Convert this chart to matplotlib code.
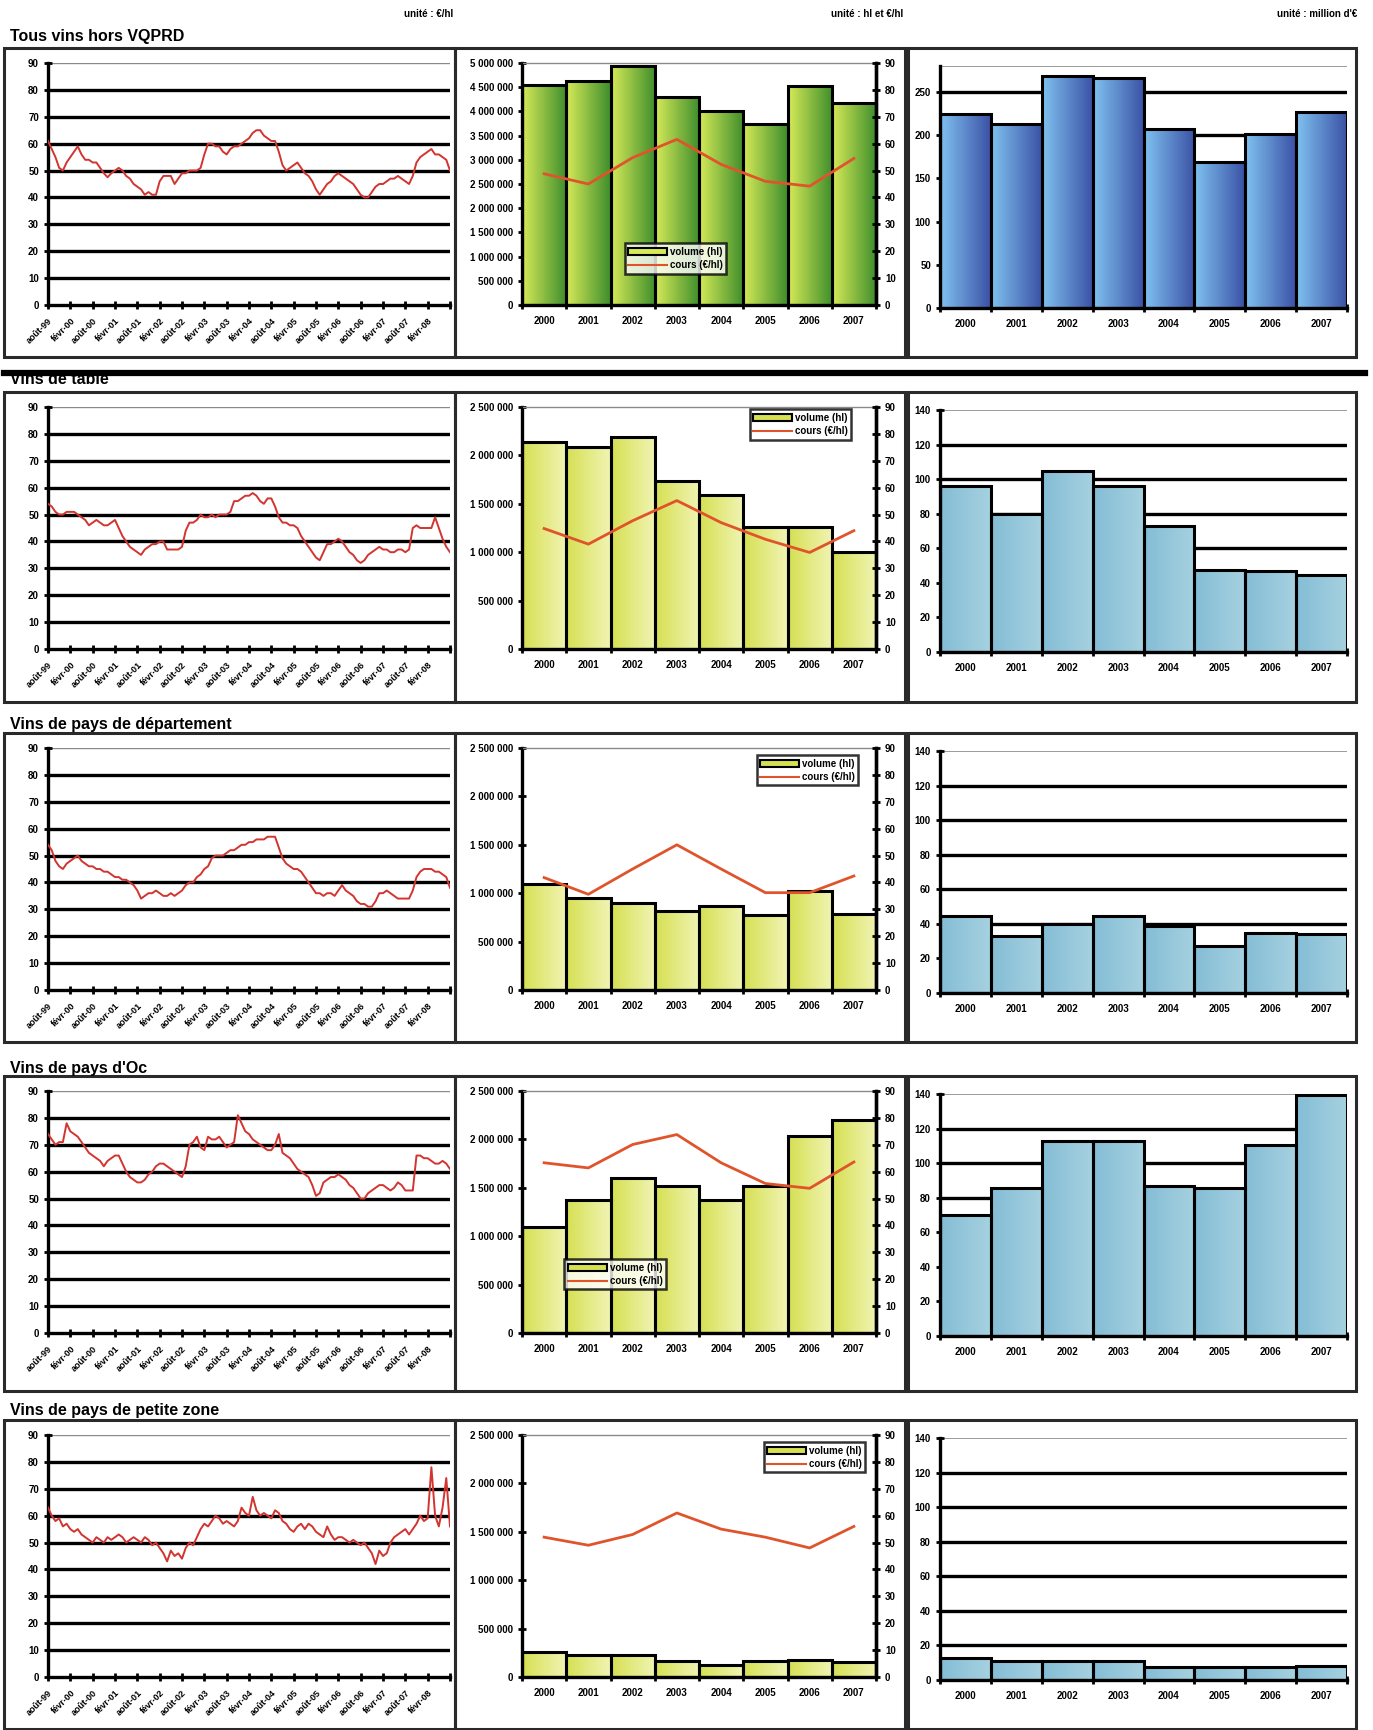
import numpy as np
import matplotlib
matplotlib.use('Agg')
import matplotlib.pyplot as plt
from matplotlib.colors import LinearSegmentedColormap
from matplotlib.patches import Rectangle
from matplotlib.lines import Line2D
from matplotlib.ticker import FuncFormatter

plt.rcParams['font.family'] = ['Liberation Sans', 'DejaVu Sans']
plt.rcParams['font.weight'] = 'bold'

W, H = 1373, 1730

years = ['2000', '2001', '2002', '2003', '2004', '2005', '2006', '2007']
months = ['août-99', 'févr-00', 'août-00', 'févr-01', 'août-01', 'févr-02',
          'août-02', 'févr-03', 'août-03', 'févr-04', 'août-04', 'févr-05',
          'août-05', 'févr-06', 'août-06', 'févr-07', 'août-07', 'févr-08']

titles = ['Tous vins hors VQPRD', 'Vins de table', 'Vins de pays de département',
          "Vins de pays d'Oc", 'Vins de pays de petite zone']

# cours mensuels (€/hl), d'août 1999 à août 2008
prix_tous = [61, 58, 55, 51, 50, 53, 55, 57, 59, 56,
             54, 54, 53, 53, 51, 49, 47.5, 49, 50, 51,
             50, 48, 47, 45, 44, 43, 41, 42, 41, 41,
             46, 48, 48, 48, 45, 47, 49, 49, 50, 50,
             50, 51, 56, 60, 60, 59, 59, 57, 56, 58,
             59, 59, 60, 61, 62, 64, 65, 65, 63, 62,
             61, 61, 57, 52, 50, 51, 52, 53, 51, 49,
             48, 46, 43, 41, 43, 45, 46, 48, 49, 48,
             47, 46, 45, 43, 41, 40, 40, 42, 44, 45,
             45, 46, 47, 47, 48, 47, 46, 45, 48, 53,
             55, 56, 57, 58, 56, 56, 55, 54, 50]
prix_table = [54, 53, 51, 50, 50, 51, 51, 51, 50, 49,
              48, 46, 47, 48, 47, 46, 46, 47, 48, 45,
              42, 40, 38, 37, 36, 35, 37, 38, 39, 39,
              40, 40, 37, 37, 37, 37, 38, 44, 47, 47,
              48, 50, 49, 49, 50, 49, 50, 50, 50, 51,
              55, 55, 56, 57, 57, 58, 57, 55, 54, 56,
              56, 53, 49, 47, 47, 46, 46, 45, 42, 40,
              38, 36, 34, 33, 36, 39, 39, 40, 41, 40,
              38, 36, 35, 33, 32, 33, 35, 36, 37, 38,
              37, 37, 36, 36, 37, 37, 36, 37, 45, 46,
              45, 45, 45, 45, 49, 45, 41, 38, 36]
prix_dept = [54, 52, 48, 46, 45, 47, 48, 49, 50, 48,
             47, 46, 46, 45, 45, 44, 44, 43, 42, 42,
             41, 41, 40, 39, 37, 34, 35, 36, 36, 37,
             36, 35, 35, 36, 35, 36, 37, 39, 40, 40,
             42, 43, 45, 46, 49, 50, 50, 50, 51, 52,
             52, 53, 54, 54, 55, 55, 56, 56, 56, 57,
             57, 57, 53, 49, 47, 46, 45, 45, 44, 42,
             40, 38, 36, 36, 35, 36, 36, 35, 37, 39,
             37, 36, 35, 33, 32, 32, 31, 31, 33, 36,
             36, 37, 36, 35, 34, 34, 34, 34, 37, 42,
             44, 45, 45, 45, 44, 44, 43, 42, 38]
prix_oc = [74, 72, 70, 71, 71, 78, 75, 74, 73, 71,
           69, 67, 66, 65, 64, 62, 64, 65, 66, 66,
           63, 60, 58, 57, 56, 56, 57, 59, 60, 62,
           63, 63, 62, 61, 60, 59, 58, 62, 70, 71,
           73, 69, 68, 73, 72, 72, 73, 71, 69, 70,
           71, 81, 78, 75, 74, 72, 71, 70, 69, 68,
           68, 70, 74, 67, 66, 65, 63, 61, 60, 59,
           58, 55, 51, 52, 56, 57, 58, 58, 59, 58,
           57, 55, 54, 52, 50, 50, 52, 53, 54, 55,
           55, 54, 53, 54, 56, 55, 53, 53, 53, 66,
           66, 65, 65, 64, 63, 63, 64, 63, 61]
prix_zone = [63, 60, 58, 59, 56, 57, 55, 54, 55, 53,
             52, 51, 50, 52, 51, 50, 52, 51, 52, 53,
             52, 50, 51, 52, 51, 50, 52, 51, 49, 50,
             48, 46, 43, 47, 45, 46, 44, 48, 50, 49,
             52, 55, 57, 56, 58, 60, 59, 57, 58, 57,
             56, 58, 63, 61, 60, 67, 62, 60, 61, 60,
             59, 62, 61, 58, 57, 55, 54, 56, 57, 55,
             57, 56, 54, 53, 52, 56, 53, 51, 52, 52,
             51, 50, 51, 50, 49, 50, 48, 46, 42, 47,
             45, 46, 50, 52, 53, 54, 55, 53, 55, 57,
             60, 58, 59, 78, 60, 56, 63, 74, 56]

# volumes (hl) et cours moyens (€/hl) par campagne
vol_tous = [4550000, 4630000, 4940000, 4290000, 4000000, 3730000, 4530000, 4180000]
cours_tous = [48.8, 45, 54.8, 61.6, 52.3, 46, 44.2, 54.5]
vol_table = [2140000, 2090000, 2190000, 1740000, 1590000, 1260000, 1260000, 1000000]
cours_table = [44.8, 39, 47.7, 55.2, 47, 40.8, 35.9, 44]
vol_dept = [1100000, 950000, 900000, 820000, 870000, 770000, 1020000, 790000]
cours_dept = [41.8, 35.6, 45, 54, 45, 36.2, 36.2, 42.4]
vol_oc = [1100000, 1375000, 1600000, 1520000, 1375000, 1520000, 2040000, 2200000]
cours_oc = [63.3, 61.4, 70.1, 73.8, 63.3, 55.6, 53.8, 63.6]
vol_zone = [260000, 230000, 230000, 170000, 120000, 170000, 180000, 160000]
cours_zone = [52, 49, 53, 61, 55, 52, 48, 56]

# valeur (million d'€)
val_tous = [224.5, 213, 268.5, 266.5, 207, 169, 201, 226.5]
val_table = [96, 80, 104.8, 96, 72.8, 47.7, 46.7, 44.4]
val_dept = [44.3, 33.2, 40, 44.3, 39, 27.4, 34.7, 34.2]
val_oc = [70, 85.4, 112.7, 112.7, 87, 85.4, 110.7, 139.5]
val_zone = [13, 11, 11, 11, 7.4, 7.4, 7.4, 8]

prix = [prix_tous, prix_table, prix_dept, prix_oc, prix_zone]
volumes = [vol_tous, vol_table, vol_dept, vol_oc, vol_zone]
cours = [cours_tous, cours_table, cours_dept, cours_oc, cours_zone]
valeurs = [val_tous, val_table, val_dept, val_oc, val_zone]

vol_max = [5000000, 2500000, 2500000, 2500000, 2500000]
val_max = [280, 140, 140, 140, 140]
val_step = [50, 20, 20, 20, 20]
leg_pos = [('lower left', (0.29, 0.13)), ('upper right', (0.93, 0.99)),
           ('upper right', (0.95, 0.97)), ('lower left', (0.12, 0.18)),
           ('upper right', (0.97, 0.97))]

row_top = [48, 392, 733, 1076, 1420]
row_bot = [357, 702, 1042, 1391, 1729]
title_y = [36, 380, 725, 1068, 1410]

green = ('#d6ea58', '#3e8e2c')
yellow = ('#d6e052', '#f1f4b4')
blue = ('#80c2f0', '#3b52a6')
pale_blue = ('#84bdd5', '#a6d1e0')

TICK = dict(labelsize=7, width=2, length=6, direction='inout', color='black')


def box(x0, y0, x1, y1):
    return [x0 / W, 1 - y1 / H, (x1 - x0) / W, (y1 - y0) / H]


def frame(x0, y0, x1, y1):
    fig.add_artist(Rectangle((x0 / W, 1 - y1 / H), (x1 - x0) / W, (y1 - y0) / H,
                             transform=fig.transFigure, fill=False,
                             lw=2.2, ec='#2a2a2a'))


def shade(ax, bars, c0, c1):
    cmap = LinearSegmentedColormap.from_list('bar', [c0, c1])
    grad = np.linspace(0, 1, 64).reshape(1, -1)
    for b in bars:
        x, y, w, h = b.get_x(), b.get_y(), b.get_width(), b.get_height()
        im = ax.imshow(grad, cmap=cmap, extent=[x, x + w, y, y + h],
                       aspect='auto', zorder=2, interpolation='bilinear')
        im.set_clip_path(b)


def year_axis(ax):
    ax.set_xlim(-0.5, 7.5)
    ax.set_xticks(np.arange(-0.5, 8, 1))
    ax.set_xticklabels([])
    ax.set_xticks(np.arange(8), minor=True)
    ax.set_xticklabels(years, minor=True)
    ax.tick_params(axis='x', which='minor', length=0, labelsize=7, pad=8)
    ax.tick_params(axis='x', which='major', **TICK)


def draw_prix(ax, vals):
    ax.plot(np.arange(len(vals)), vals, color='#d2342f', lw=1.4, zorder=4)
    ax.set_xlim(0, 108)
    ax.set_ylim(0, 90)
    for v in range(10, 90, 10):
        ax.axhline(v, color='black', lw=2.4, zorder=1)
    ax.axhline(90, color='#8a8a8a', lw=1, zorder=1)
    ax.set_yticks(range(0, 91, 10))
    ax.set_xticks(range(0, 109, 6))
    ax.set_xticklabels(months + [''], rotation=45, ha='right',
                       rotation_mode='anchor', fontsize=6.5)
    ax.tick_params(axis='both', **TICK)
    ax.tick_params(axis='x', labelsize=6.5, pad=5)
    for s in ('top', 'right'):
        ax.spines[s].set_visible(False)
    for s in ('left', 'bottom'):
        ax.spines[s].set_linewidth(2.4)


def draw_volume(ax, vol, crs, vmax, colors, loc, anchor):
    x = np.arange(8)
    bars = ax.bar(x, vol, width=1, facecolor='none', edgecolor='black', lw=2.2, zorder=3)
    shade(ax, bars, *colors)
    year_axis(ax)
    ax.set_ylim(0, vmax)
    ax.set_yticks(np.arange(0, vmax + 1, 500000))
    ax.yaxis.set_major_formatter(FuncFormatter(lambda v, p: f'{int(v):,}'.replace(',', ' ')))
    ax.tick_params(axis='y', **TICK)
    ax.spines['top'].set_color('#8a8a8a')
    ax.spines['top'].set_linewidth(1)
    for s in ('left', 'bottom', 'right'):
        ax.spines[s].set_linewidth(2.4)

    ax2 = ax.twinx()
    ax2.plot(x, crs, color='#e0542c', lw=2)
    ax2.set_ylim(0, 90)
    ax2.set_yticks(range(0, 91, 10))
    ax2.tick_params(axis='y', **TICK)
    ax2.spines['right'].set_linewidth(2.4)
    ax2.spines['top'].set_visible(False)

    handles = [Rectangle((0, 0), 1, 1, fc=colors[0], ec='black', lw=1.5),
               Line2D([], [], color='#e0542c', lw=1.5)]
    leg = ax2.legend(handles, ['volume (hl)', 'cours (€/hl)'], loc=loc,
                     bbox_to_anchor=anchor, fontsize=7, frameon=True,
                     fancybox=False, borderpad=0.35, handlelength=4,
                     labelspacing=0.35, handletextpad=0.3, borderaxespad=0)
    leg.get_frame().set_edgecolor('black')
    leg.get_frame().set_linewidth(1.8)


def draw_valeur(ax, vals, vmax, step, colors):
    x = np.arange(8)
    bars = ax.bar(x, vals, width=1, facecolor='none', edgecolor='black', lw=2.2, zorder=3)
    shade(ax, bars, *colors)
    year_axis(ax)
    ax.set_ylim(0, vmax)
    ticks = np.arange(0, vmax + 1, step)
    for v in ticks[1:]:
        if v < vmax:
            ax.axhline(v, color='black', lw=2.4, zorder=1)
    ax.axhline(vmax, color='#8a8a8a', lw=1.2, zorder=1)
    ax.set_yticks(ticks)
    ax.tick_params(axis='y', **TICK)
    for s in ('top', 'right'):
        ax.spines[s].set_visible(False)
    for s in ('left', 'bottom'):
        ax.spines[s].set_linewidth(2.4)


fig = plt.figure(figsize=(W / 100, H / 100), dpi=100)

fig.text(453 / W, 1 - 14 / H, 'unité : €/hl', ha='right', va='center', fontsize=7)
fig.text(903 / W, 1 - 14 / H, 'unité : hl et €/hl', ha='right', va='center', fontsize=7)
fig.text(1357 / W, 1 - 14 / H, "unité : million d'€", ha='right', va='center', fontsize=7)

for i in range(5):
    top, bot = row_top[i], row_bot[i]
    fig.text(10 / W, 1 - title_y[i] / H, titles[i], ha='left', va='center',
             fontsize=11.5, fontweight='bold')
    frame(4, top, 455, bot)
    frame(455, top, 905, bot)
    frame(908, top, 1356, bot)

    ax_p = fig.add_axes(box(48, top + 15, 450, top + 257))
    draw_prix(ax_p, prix[i])

    ax_v = fig.add_axes(box(522, top + 15, 876, top + 257))
    colors = green if i == 0 else yellow
    draw_volume(ax_v, volumes[i], cours[i], vol_max[i], colors, *leg_pos[i])

    ax_e = fig.add_axes(box(940, top + 18, 1347, top + 260))
    colors = blue if i == 0 else pale_blue
    draw_valeur(ax_e, valeurs[i], val_max[i], val_step[i], colors)

# trait de séparation sous le premier bloc
fig.add_artist(Line2D([4 / W, 1365 / W], [1 - 373 / H, 1 - 373 / H],
                      transform=fig.transFigure, color='black', lw=4.5))

fig.savefig('out.png', dpi=100)
